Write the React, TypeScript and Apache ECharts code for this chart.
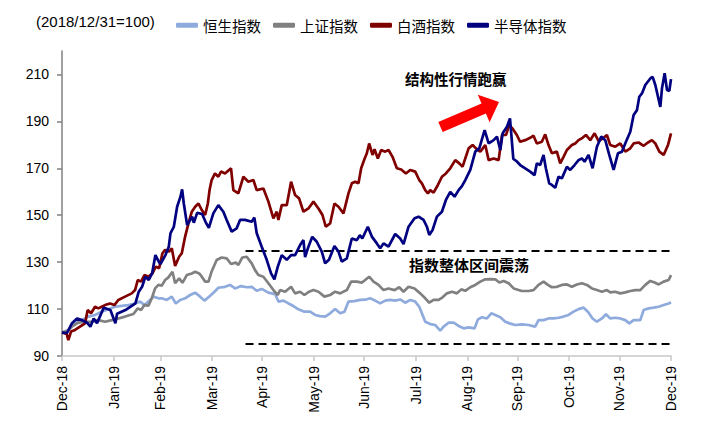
import React, { useEffect, useRef } from "react";
import * as echarts from "echarts";

// x positions are calendar-day offsets from 2018-12-31
const monthTickDays = [0, 31, 59, 90, 120, 151, 181, 212, 243, 273, 304, 334, 365];
const monthLabels = ["Dec-18", "Jan-19", "Feb-19", "Mar-19", "Apr-19", "May-19", "Jun-19", "Jul-19", "Aug-19", "Sep-19", "Oct-19", "Nov-19", "Dec-19"];
const yTicks = [90, 110, 130, 150, 170, 190, 210];

const seriesNames = ["恒生指数", "上证指数", "白酒指数", "半导体指数"];
const seriesColors = ["#8FAADC", "#808080", "#800000", "#000080"];

// 恒生指数
const hsiDays = [0, 3.8, 7.8, 11.8, 15.8, 19.8, 23.8, 27.8, 31.8, 35.8, 39.8, 43.8, 46.8, 49.4, 51.8, 54.8, 57.8, 59.8, 62.8, 65.8, 68.2, 70.8, 73.8, 76.8, 79.8, 82.8, 85.4, 89, 91.4, 93.7, 97.7, 100.7, 103.7, 107.3, 110.7, 113.7, 116.7, 119.7, 123.7, 127.7, 129.7, 132.7, 135.7, 138.7, 141.7, 145.3, 148.7, 151.7, 154.7, 157.7, 160.7, 163.7, 166.7, 169.3, 171.7, 175.3, 178.7, 181.7, 184.7, 187.7, 190.7, 193.7, 196.7, 199.7, 202.7, 205.7, 208.7, 211.7, 214.1, 215.7, 217.7, 220.7, 223.7, 226.7, 228.7, 231.7, 234.7, 237.7, 240.7, 243.7, 247.3, 249.3, 251.7, 254.7, 257.3, 259.7, 262.7, 265.7, 268.7, 271.7, 275.6, 279.6, 283.6, 285.6, 288.6, 291.6, 294.6, 297.6, 300.6, 303.6, 306.6, 309.6, 312.6, 315.2, 318, 320.6, 323.6, 326, 328.6, 331.6, 334.6, 337.6, 340, 342.6, 346.6, 348.6, 351.6, 354.6, 357.6, 360.6, 363.6, 365];
const hsiVals = [100, 101.1, 103.9, 105.3, 106.8, 107.5, 108.9, 109.9, 111, 111.4, 111.7, 112.4, 113.2, 111.7, 113.2, 115.3, 114.6, 114.6, 113.9, 115.3, 112.4, 113.9, 114.6, 116, 117, 115.3, 113.6, 115.8, 117.4, 119.1, 119.5, 120.3, 118.8, 119.8, 119.3, 119.5, 117.8, 118.6, 117, 116.4, 113.2, 113.6, 112.4, 111.3, 109.9, 108.9, 108.9, 107.5, 107, 106.8, 108.2, 110, 108.2, 108.9, 113.2, 113.4, 113.9, 114, 114.6, 113.6, 112.4, 113.6, 113.9, 113.6, 114.1, 112.7, 113.9, 113.2, 111, 108.2, 104.6, 103.6, 103.2, 100.8, 102.5, 104.2, 104.2, 102.8, 101.8, 102.2, 101.8, 105.6, 106.5, 106, 108.2, 107.5, 106.5, 104.6, 103.8, 103.2, 103.5, 103.2, 102.5, 105.3, 105.3, 106, 106, 106.3, 106.8, 107.5, 108.9, 110, 110.6, 108.9, 106, 104.6, 106, 107.8, 106, 106.3, 106, 105.3, 103.9, 105.3, 105.3, 109.6, 110.3, 110.6, 111, 111.7, 112.4, 112.9];

// 上证指数
const sseDays = [0, 3, 5.8, 9.8, 13.8, 17.8, 21.8, 25.8, 29.8, 33.8, 37.8, 42.8, 45.4, 47.4, 49.4, 51.8, 53.8, 55.8, 57.8, 59.8, 61.8, 63.8, 66.2, 67.8, 70.2, 72.2, 74.8, 77.8, 79.8, 82.2, 83.8, 85.8, 87.8, 89.6, 92.7, 95.7, 98.7, 101.3, 104.1, 105.7, 108.1, 110.7, 113.7, 115.7, 117.7, 120.7, 123.7, 126.7, 129.3, 130.7, 133.7, 137.3, 139.7, 142.7, 145.3, 148.1, 150.7, 153.7, 157.3, 160.7, 163.7, 166.7, 170.7, 173.3, 176.7, 179.7, 181.7, 184.1, 186.7, 189.7, 192.7, 195.7, 199.3, 202.1, 204.7, 207.7, 211.3, 214.7, 217.7, 220.1, 222.7, 225.7, 228.1, 230.7, 233.7, 236.7, 239.3, 241.7, 244.7, 247.7, 250.7, 253.7, 256.7, 259.7, 262.1, 264.7, 267.7, 270.7, 275.6, 279.6, 282.6, 285.6, 288.6, 291.2, 293.6, 296.6, 299.6, 302.6, 305.6, 308.6, 311.6, 314.6, 317.6, 320.6, 323.6, 326.6, 328.6, 331.6, 334.6, 337.6, 340.6, 343.6, 346.6, 349.6, 352.6, 355.2, 357.6, 360.6, 363.6, 365];
const sseVals = [100, 100.5, 102.5, 104.2, 104.6, 104.6, 105.3, 104.6, 105.3, 106, 106.8, 107.9, 110.3, 109.6, 111.7, 111.4, 114.6, 118.8, 120.3, 120, 122.4, 123.5, 125.9, 121, 123.1, 121.2, 124.5, 125.2, 125.9, 125.2, 123.8, 121.7, 121.7, 125.9, 130.9, 132, 131.6, 129.2, 129.8, 128.8, 132, 132.3, 129.5, 126.6, 124.5, 123.8, 121, 118.1, 116, 118.1, 117.4, 119.5, 116.7, 117.4, 116, 117.4, 118.1, 117.4, 115.3, 116, 117.4, 116.7, 118.1, 121.7, 121.7, 121.3, 122.4, 123.8, 121.7, 120.3, 118.1, 118.8, 118.1, 119.3, 117.4, 119.5, 118.8, 116.7, 114.6, 112.7, 113.9, 113.9, 115, 116.7, 117.4, 116.7, 118.4, 117.8, 119.3, 120.3, 121.7, 122.7, 122.8, 122.7, 121.3, 122, 121, 118.8, 117.7, 117.7, 118.1, 120.3, 121.7, 120.3, 119.3, 119.5, 120.3, 120.5, 119.5, 120.5, 121, 120.3, 118.8, 118.1, 117.4, 118.1, 117.1, 117.4, 116.7, 117.1, 117.7, 118.1, 118.1, 120.3, 122, 121.3, 120.5, 121.7, 122.4, 124.5];

// 白酒指数
const liquorDays = [0, 2.8, 3.8, 5.4, 7.8, 10.8, 13.8, 15.4, 17.4, 19.8, 21.8, 23.8, 25.8, 28.8, 31.4, 33.8, 37.8, 41.8, 43.8, 45.4, 47.4, 49.4, 51.8, 54.2, 56.2, 58.2, 60.2, 61.8, 64.2, 65.8, 67.8, 70.2, 71.8, 73.8, 75.8, 77.8, 79.8, 81.8, 83.8, 85.8, 87.4, 88.5, 89.7, 91.7, 93.7, 95.3, 97.7, 100.1, 101.3, 102.7, 105.7, 108.7, 111.7, 114.7, 116.7, 120.7, 123.7, 126.7, 128.7, 129.7, 131.7, 134.7, 137.3, 139.7, 142.1, 144.7, 147.7, 150.7, 153.7, 156.1, 158.1, 160.7, 163.3, 165.7, 168.7, 171.7, 173.7, 175.7, 177.7, 179.3, 181.3, 182.7, 184.1, 186.1, 187.3, 189.3, 191.3, 193.7, 195.7, 198.1, 200.7, 203.3, 206.1, 208.7, 211.7, 214.1, 215.7, 217.7, 219.3, 220.7, 222.7, 225.3, 227.7, 230.1, 232.7, 235.7, 238.1, 240.1, 241.7, 243.7, 246.1, 248.1, 250.7, 253.7, 255.7, 258.7, 261.7, 263.7, 266.1, 268, 270, 272.6, 274.6, 277.6, 280.6, 282.6, 284.6, 287.6, 289.6, 291.6, 293.6, 296.6, 298.6, 300.6, 302.6, 305.6, 307.6, 309.6, 312, 314, 316.6, 319.2, 321.6, 324.6, 326.6, 328.6, 331.6, 334.6, 337.6, 340.6, 342.6, 345.6, 348.6, 351.2, 353.6, 355.6, 358, 360.6, 363.2, 365];
const liquorVals = [100, 99.4, 96.8, 100.4, 101.1, 102.5, 103.9, 109.6, 108.2, 111, 110.3, 111, 111.7, 112.4, 111.7, 113.9, 115.3, 116.7, 118.1, 122.4, 121.7, 124.5, 123.8, 125.2, 128.1, 127.4, 133.8, 135.2, 134.5, 135.9, 128.4, 132.3, 133.8, 140.9, 146.5, 151.5, 153.6, 155, 152.2, 150.1, 155, 161, 165, 167.8, 166.4, 168.6, 167.8, 169.3, 170, 160.7, 159.3, 166.4, 164.3, 165, 160.7, 161.4, 155.8, 148.7, 151.5, 148, 154.3, 154.3, 164.3, 158.6, 157.2, 151.5, 152.9, 155.8, 152.9, 150.1, 145.1, 146.5, 155, 153.6, 150.8, 159.3, 163.6, 164.3, 163.6, 170, 174, 176.4, 180.6, 175.7, 178.1, 174.2, 177.8, 177.1, 177.8, 174.9, 170, 169.5, 167.8, 169.3, 168.6, 165, 163.6, 160.7, 159.3, 160.7, 159.6, 162.9, 166.4, 167.8, 170, 173.5, 172.1, 170.7, 174.2, 178.5, 179.9, 178.5, 177.1, 179.9, 173.5, 174.2, 173.5, 184.2, 184.2, 188.4, 187, 184.2, 181.3, 182, 183, 183.9, 180.6, 181.3, 184.5, 179.9, 176.4, 177.1, 172.1, 174.9, 177.8, 179.9, 180.6, 182, 183, 184.2, 182, 184.9, 181.6, 183, 184.2, 179.9, 179.2, 180.6, 177.1, 178.5, 180.6, 181, 179.6, 181, 182, 180.6, 177.1, 175.7, 179.9, 184.9];

// 半导体指数
const chipDays = [0, 3, 6, 9, 12, 15, 17, 19, 21, 25, 29, 32, 33, 38, 44, 46, 48, 50, 52, 54, 56, 58, 59, 62, 64, 65, 67, 69, 71, 72, 73, 75, 78, 79, 81, 84, 86, 88, 90.7, 93.7, 96.7, 98.7, 101.7, 104.7, 106.7, 109.7, 113.7, 115.3, 116.7, 119.7, 122.7, 125.3, 127.3, 129.3, 131.7, 134.7, 137.3, 139.7, 142.7, 144.7, 145.7, 147.7, 150, 152.7, 155.7, 157.7, 160, 163.3, 165.7, 167.7, 170.7, 173.7, 176.7, 178.5, 180, 183.3, 185.7, 188.7, 190.7, 192.7, 195.7, 199.7, 202.7, 204.7, 207.7, 211.3, 213.7, 216.7, 218.7, 220.1, 222.1, 224.7, 227.7, 230.1, 232.7, 235.3, 237.7, 239.7, 241.7, 244.7, 247.7, 250.1, 253.3, 255.7, 258.7, 260.7, 262.7, 264.1, 266.7, 268.5, 270.5, 272.5, 274.6, 277.6, 280.6, 283.2, 284.6, 286.6, 288.6, 290, 292, 293.6, 295.6, 297.6, 299.6, 302.6, 304.6, 307.2, 309.6, 311.6, 313.2, 315.6, 318, 320.6, 323.2, 325.6, 328, 330.6, 333.2, 335.6, 338, 340.6, 342.6, 344.6, 346, 347.6, 349.6, 352.6, 354, 355.6, 358.6, 359.6, 361.2, 362.6, 364, 365];
const chipVals = [100, 99.8, 104, 106, 105.3, 104.2, 102.5, 106, 104, 110.6, 109.6, 104, 108, 109.6, 112.4, 117.4, 119.5, 123.8, 122.4, 125.2, 133, 130.2, 129.2, 133, 136.6, 142.3, 145, 153.6, 157.9, 161, 155, 145.8, 149.4, 146.8, 151, 150.5, 147.2, 144.6, 150.8, 154.3, 151.5, 148, 143, 144.4, 148, 148, 147.2, 149, 142.3, 136.6, 131, 125.2, 122.7, 128, 133, 131, 133, 133, 137.3, 139.4, 132.2, 136.6, 140.8, 138.7, 134.5, 129.5, 131, 136.9, 134.5, 130.2, 131.6, 140.1, 139.4, 141.5, 140.1, 145.1, 140.9, 138, 135.9, 138, 136.6, 142, 140.1, 137.7, 145.1, 148.7, 149.4, 148, 145.1, 141.6, 143.7, 149.4, 151.5, 156.5, 160, 157.9, 160.7, 162.4, 165, 169.3, 177.1, 178.5, 186.3, 180.6, 182, 183.5, 177.8, 184.9, 187.7, 191.3, 174, 173, 171.4, 170, 168.6, 167.1, 172.1, 171.4, 175.7, 170, 163.6, 162.9, 161.7, 166.4, 165.7, 170.7, 169.3, 171.4, 173.5, 174.2, 172.8, 175.7, 170, 179.2, 183.5, 182, 175.7, 169.3, 176.4, 177.1, 181.3, 185.6, 192.7, 194.8, 200.5, 201.9, 205.5, 208.3, 209, 205.5, 196.2, 204.1, 210.5, 203.4, 203, 208];

// range band (dashed lines) and annotation texts
const bandUpper = 135;
const bandLower = 95.3;
const bandStartDay = 110;
const bandEndDay = 365;
const baseNote = "(2018/12/31=100)";
const noteTop = "结构性行情跑赢";
const noteMid = "指数整体区间震荡";

const FONT = "'Liberation Sans', Arial, 'Noto Sans CJK SC', sans-serif";
const CJK = "'Noto Sans CJK SC', 'Liberation Sans', sans-serif";

export default function App() {
  const ref = useRef<HTMLDivElement>(null);
  useEffect(() => {
    if (!ref.current) return;
    const chart = echarts.init(ref.current, undefined, { renderer: "svg" });
    const daysList = [hsiDays, sseDays, liquorDays, chipDays];
    const valsList = [hsiVals, sseVals, liquorVals, chipVals];
    const series: any[] = seriesNames.map((name, k) => ({
      name,
      type: "line",
      showSymbol: false,
      symbol: "none",
      color: seriesColors[k],
      lineStyle: { width: 2.7, color: seriesColors[k] },
      data: daysList[k].map((d, i) => [d, valsList[k][i]]),
      z: 2 + k,
    }));
    series[0].markLine = {
      silent: true,
      symbol: "none",
      label: { show: false },
      lineStyle: { type: [8, 5], color: "#000", width: 2 },
      data: [
        [{ coord: [bandStartDay, bandUpper] }, { coord: [bandEndDay, bandUpper] }],
        [{ coord: [bandStartDay, bandLower] }, { coord: [bandEndDay, bandLower] }],
      ],
    };
    chart.setOption({
      animation: false,
      grid: { left: 62, right: 39, top: 51, bottom: 84, containLabel: false },
      legend: {
        data: seriesNames,
        left: 171,
        top: 13,
        itemGap: 12,
        itemWidth: 22,
        itemHeight: 5,
        icon: "roundRect",
        textStyle: { fontSize: 14.5, color: "#000", fontFamily: CJK },
      },
      xAxis: {
        type: "value",
        min: 0,
        max: 365,
        axisLine: { onZero: false, lineStyle: { color: "#C8C8C8", width: 1.5 } },
        axisTick: { show: true, customValues: monthTickDays, length: 5, lineStyle: { color: "#C8C8C8", width: 1.5 } },
        axisLabel: {
          customValues: monthTickDays,
          rotate: 90,
          margin: 10,
          fontSize: 14,
          color: "#000",
          fontFamily: FONT,
          formatter: (v: number) => monthLabels[monthTickDays.indexOf(Math.round(v))] ?? "",
        },
        splitLine: { show: false },
      },
      yAxis: {
        type: "value",
        min: 90,
        max: 220,
        axisLine: { show: true, onZero: false, lineStyle: { color: "#808080", width: 1.5 } },
        axisTick: { show: true, customValues: yTicks, length: 5, lineStyle: { color: "#808080", width: 1.5 } },
        axisLabel: { customValues: yTicks, margin: 13, fontSize: 14, color: "#000", fontFamily: FONT },
        splitLine: { show: false },
      },
      graphic: [
        {
          type: "text",
          left: 36,
          top: 14,
          style: { text: baseNote, fontSize: 15, fill: "#000", fontFamily: FONT },
        },
        {
          type: "text",
          left: 405,
          top: 71,
          style: { text: noteTop, fontSize: 14.5, fontWeight: "bold", fill: "#000", fontFamily: CJK },
        },
        {
          type: "text",
          left: 409,
          top: 257,
          style: { text: noteMid, fontSize: 15, fontWeight: "bold", fill: "#000", fontFamily: CJK },
        },
        {
          type: "polygon",
          shape: {
            points: [
              [438.3, 121.9],
              [481.5, 103.4],
              [477.8, 94.7],
              [499, 102],
              [489.6, 122.3],
              [485.9, 113.6],
              [442.7, 132.1],
            ],
          },
          style: { fill: "#FF0000" },
          z: 100,
        },
      ],
      series,
    });
    return () => chart.dispose();
  }, []);
  return <div ref={ref} style={{ position: "absolute", left: 0, top: 0, width: 710, height: 440 }} />;
}
